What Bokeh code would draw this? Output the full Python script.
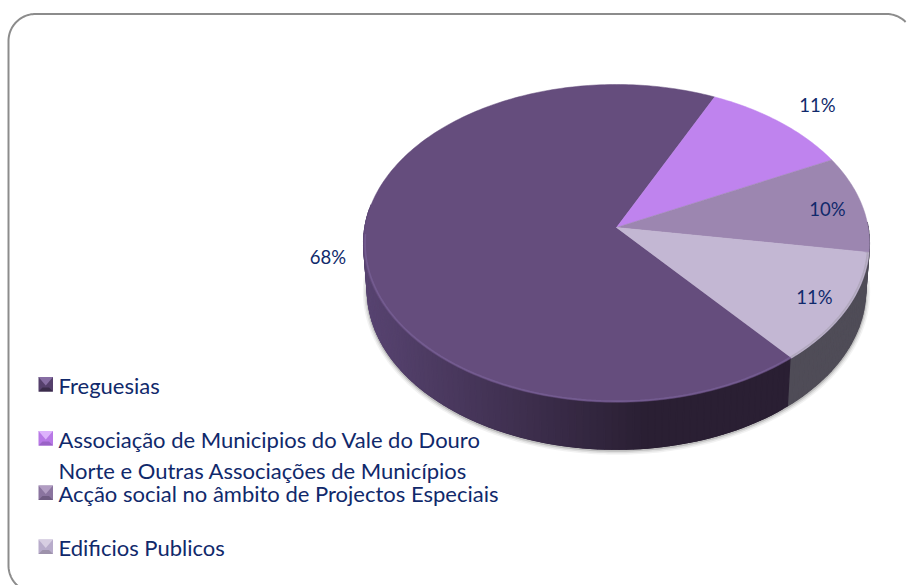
import numpy as np
from bokeh.plotting import figure
from bokeh.models import Range1d
from bokeh.core.properties import value
from bokeh.embed import file_html
from bokeh.resources import INLINE

# ---- data ----
categories = ["Freguesias",
              "Associação de Municipios do Vale do Douro\nNorte e Outras Associações de Municípios",
              "Acção social no âmbito de Projectos Especiais",
              "Edificios Publicos"]
values = [68.1, 10.6, 9.9, 11.4]
labels = ["68%", "11%", "10%", "11%"]
colors = ["#654d7d", "#bf83ee", "#9c86b0", "#c3b7d3"]
wall_colors = [None, "#6d4f8a", "#4a4458", "#4f4c57"]
rim_colors = ["#7f68a0", "#a974d4", "#8a7a9c", "#a39dac"]
marker_light = ["#8f75ad", "#e3bcff", "#b7a3c8", "#dcd3e6"]
marker_dark = ["#3a2c4a", "#9a62c6", "#6f5c82", "#9d92ab"]
marker_mid = ["#55406c", "#b878e6", "#8a749f", "#b8accb"]

# ---- layout ----
START = 140.0
CX, CY, RX, RY, K = 616.0, 227.0, 251.7, 157.3, 0.1
DEPTH, BOTTOM_X = 47.0, 0.985
TEXT = "#10296b"
FONT = value("Lato")
label_pos = [(327.5, 256), (817, 104), (827, 208), (814, 296)]
legend_y = [384.5, 438.5, 493, 547]
LINE_GAP = 31


def project(theta, scale=1.0):
    t = np.radians(theta)
    w = 1 + K * np.cos(t) * scale
    return (CX + scale * RX * np.sin(t) / w, CY - scale * RY * np.cos(t) / w)


def project_bottom(theta):
    x, y = project(theta)
    return CX + (x - CX) * BOTTOM_X, y + DEPTH


def lerp_hex(a, b, f):
    ca = [int(a[i:i + 2], 16) for i in (1, 3, 5)]
    cb = [int(b[i:i + 2], 16) for i in (1, 3, 5)]
    return "#%02x%02x%02x" % tuple(int(round(p + (q - p) * f)) for p, q in zip(ca, cb))


p = figure(width=907, height=585, x_range=Range1d(0, 907), y_range=Range1d(585, 0),
           output_backend="svg", toolbar_location=None, min_border=0,
           background_fill_color="white", border_fill_color="white", outline_line_color=None)
p.axis.visible = False
p.grid.visible = False

# rounded panel border
R = 27.0
arc1 = np.radians(np.linspace(180, 270, 30))
arc2 = np.radians(np.linspace(270, 315, 12))
arc3 = np.radians(np.linspace(90, 180, 30))
L, T = 8.0, 13.5
bx = np.concatenate([L + R + R * np.cos(arc3), L + R + R * np.cos(arc1), 886 + R * np.cos(arc2)])
by = np.concatenate([565 + R * np.sin(arc3), T + R + R * np.sin(arc1), T + R + R * np.sin(arc2)])
p.line(bx, by, line_color="#8c8c8c", line_width=2)

# slice angle ranges
fractions = np.array(values) / sum(values) * 360
starts = START + np.concatenate([[0], np.cumsum(fractions)[:-1]])
ends = starts + fractions

# soft shadow below the wall
sh = np.linspace(92, 276, 200)
sx, sy = project_bottom(sh)
for lw, a in [(9, 0.05), (6, 0.08), (3, 0.14)]:
    p.line(sx, sy + 1, line_color="#000000", line_alpha=a, line_width=lw)


def slice_of(theta):
    for i, (s, e) in enumerate(zip(starts, ends)):
        if s <= theta < e or s <= theta + 360 < e:
            return i
    return 0


# side wall: gradient strips drawn overlapping to hide seams
STEP = 1.5
for th0 in np.arange(88, 276, STEP):
    mid = th0 + STEP / 2
    idx = slice_of(mid)
    th1 = th0 + STEP * 2 if idx == 0 else th0 + STEP
    x0, y0 = project(th0)
    x1, y1 = project(th1)
    x2, y2 = project_bottom(th1)
    x3, y3 = project_bottom(th0)
    if idx == 0:
        f = np.clip(((x0 + x1) / 2 - 365) / (640 - 365), 0, 1)
        col = lerp_hex("#574370", "#2a1f33", f)
    else:
        col = wall_colors[idx]
    p.patch([x0, x1, x2, x3], [y0, y1, y2, y3], fill_color=col, line_color=col, line_width=1.2)

# top faces
for i in range(4):
    th = np.linspace(starts[i], ends[i], max(8, int(fractions[i])))
    x, y = project(th)
    p.patch(np.r_[CX, x], np.r_[CY, y], fill_color=colors[i], line_color=colors[i], line_width=0.5)

# bevel rim, on the front of the disc only
for i in range(4):
    th = np.linspace(starts[i], ends[i], max(8, int(fractions[i])))
    fold = (th % 360)
    th = th[(fold > 98) & (fold < 268)]
    if len(th) > 1:
        x, y = project(th, 0.994)
        p.line(x, y, line_color=rim_colors[i], line_width=1.6, line_alpha=0.55)

# data labels
p.text([q[0] for q in label_pos], [q[1] for q in label_pos], text=labels, text_font=FONT,
       text_font_size="18.5px", text_color=TEXT, text_align="center", text_baseline="middle")

# legend
for i, cat in enumerate(categories):
    yc = legend_y[i]
    xa, xb, ya, yb = 38.0, 52.5, yc - 8, yc + 6.5
    xm0, xm1, ym1 = xa + 4, xb - 4, yb - 4
    p.patch([xa, xb, xb, xa], [ya, ya, yb, yb], fill_color=marker_mid[i], line_color=None)
    p.patch([xa, xb, xm1, xm0], [yb, yb, ym1, ym1], fill_color=marker_dark[i], line_color=None)
    p.patch([xa, xb, (xa + xb) / 2], [ya, ya, ym1 - 2], fill_color=marker_light[i], line_color=None, fill_alpha=0.85)
    for j, line in enumerate(cat.split("\n")):
        p.text([58], [yc + j * LINE_GAP], text=[line], text_font=FONT, text_font_size="22px",
               text_color=TEXT, text_align="left", text_baseline="middle")

open("out.html", "w").write(file_html(p, INLINE))
